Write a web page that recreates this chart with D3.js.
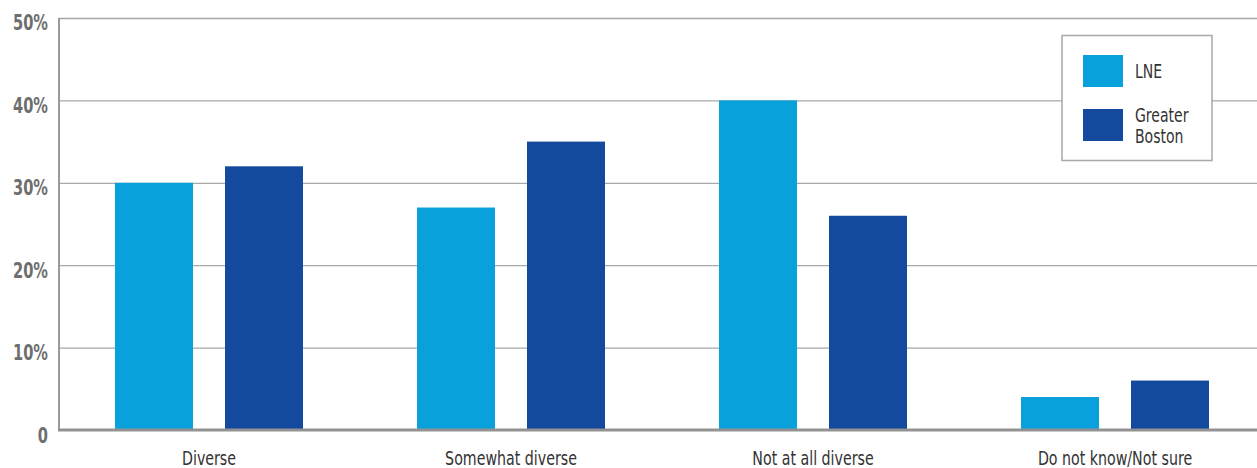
<!DOCTYPE html>
<html>
<head>
<meta charset="utf-8">
<script src="https://cdn.jsdelivr.net/npm/d3@7"></script>
<style>
body{margin:0;background:#fff;}
svg{display:block;}
</style>
</head>
<body>
<svg id="chart" width="1257" height="468"></svg>
<script>
const categories = ["Diverse", "Somewhat diverse", "Not at all diverse", "Do not know/Not sure"];
const seriesNames = ["LNE", "Greater Boston"];
const lneValues = [30, 27, 40, 4];
const bostonValues = [32, 35, 26, 6];
const yTicks = [0, 10, 20, 30, 40, 50];
const yTickLabels = ["0", "10%", "20%", "30%", "40%", "50%"];
const colors = ["#08a1dc", "#134a9e"];

(function(){
const font = "'DejaVu Sans Condensed','DejaVu Sans',sans-serif";
const svg = d3.select("#chart");
const W = 1257;
const mLeft = 59, mBottom = 430, mTop = 18;

const x = d3.scaleBand().domain(categories).range([58, 1266]).paddingInner(0).paddingOuter(0);
const inner = d3.scaleBand().domain(seriesNames).range([57, 302 - 57]).paddingInner(32 / 110).paddingOuter(0);
const y = d3.scaleLinear().domain([0, 50]).range([mBottom, mTop]);

// gridlines
const grid = d3.axisLeft(y).tickValues(yTicks.filter(d => d > 0)).tickSize(-(W - mLeft)).tickFormat("");
svg.append("g").attr("transform", `translate(${mLeft},0)`).call(grid)
  .call(g => g.select(".domain").remove())
  .call(g => g.selectAll("line").attr("stroke", "#a8a8a8").attr("stroke-width", 1.3));

// bars
const data = categories.map((c, i) => ({cat: c, vals: [lneValues[i], bostonValues[i]]}));
const groups = svg.append("g").selectAll("g").data(data).join("g")
  .attr("transform", d => `translate(${x(d.cat)},0)`);
groups.selectAll("rect").data(d => d.vals.map((v, j) => ({name: seriesNames[j], v, j})))
  .join("rect")
  .attr("x", d => inner(d.name))
  .attr("width", inner.bandwidth())
  .attr("y", d => y(d.v))
  .attr("height", d => y(0) - y(d.v))
  .attr("fill", d => colors[d.j]);

// y axis line
svg.append("line").attr("x1", mLeft).attr("x2", mLeft).attr("y1", mTop).attr("y2", mBottom + 1)
  .attr("stroke", "#9a9a9a").attr("stroke-width", 2);
// x axis line
svg.append("line").attr("x1", mLeft - 1).attr("x2", W).attr("y1", mBottom).attr("y2", mBottom)
  .attr("stroke", "#929292").attr("stroke-width", 3);

// y tick labels
const yAxis = d3.axisLeft(y).tickValues(yTicks).tickSize(0).tickPadding(0)
  .tickFormat((d, i) => yTickLabels[i]);
svg.append("g").attr("transform", `translate(48,0)`).call(yAxis)
  .call(g => g.select(".domain").remove())
  .call(g => g.selectAll("text")
    .attr("font-family", font).attr("font-size", 22).attr("font-weight", "bold")
    .attr("fill", "#6e6e6e").attr("dy", null).attr("x", null).attr("y", null)
    .attr("transform", d => `translate(0,${d === 50 ? 11 : 12}) scale(0.74,1)`));

// x labels
const xAxis = d3.axisBottom(x).tickSize(0).tickPadding(0);
svg.append("g").attr("transform", `translate(0,465)`).call(xAxis)
  .call(g => g.select(".domain").remove())
  .call(g => g.selectAll("text").attr("font-family", font).attr("font-size", 19.5)
    .attr("fill", "#333").attr("dy", null).attr("y", null)
    .attr("transform", "scale(0.81,1)"));

// legend
const lg = svg.append("g");
lg.append("rect").attr("x", 1062).attr("y", 35.5).attr("width", 150).attr("height", 125)
  .attr("fill", "#fff").attr("stroke", "#a8a8a8").attr("stroke-width", 1.5);
seriesNames.forEach((s, i) => {
  const yy = 55 + i * 54;
  lg.append("rect").attr("x", 1083).attr("y", yy).attr("width", 40).attr("height", 32).attr("fill", colors[i]);
});
const legendLines = [[seriesNames[0], 78], [seriesNames[1].split(" ")[0], 122], [seriesNames[1].split(" ")[1], 143]];
legendLines.forEach(([t, yy]) => {
  lg.append("text").attr("transform", `translate(1135,${yy}) scale(0.8,1)`)
    .attr("font-family", font).attr("font-size", 19.5).attr("fill", "#333").text(t);
});
})();
</script>
</body>
</html>
